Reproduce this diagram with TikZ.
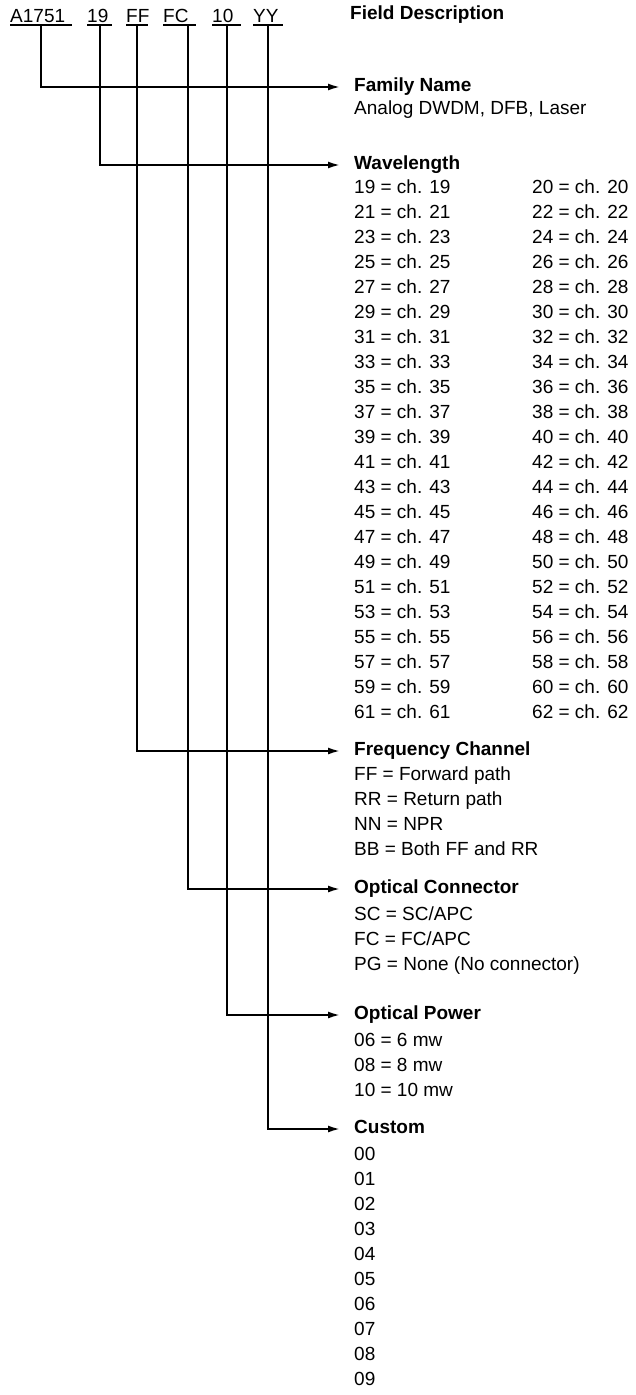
\documentclass[tikz,border=0pt]{standalone}
\usepackage{fontspec}
\setmainfont{Liberation Sans}
\usetikzlibrary{arrows.meta, positioning}

\begin{document}
\begin{tikzpicture}[x=1pt, y=-1pt,
  codebox/.style={anchor=south west, inner xsep=0pt, inner ysep=2.5pt, align=left,
                  font=\fontsize{19}{25}\selectfont},
  headtxt/.style={anchor=west, inner sep=0pt, text height=13pt, text depth=4pt,
                  font=\fontsize{19}{25}\selectfont\bfseries},
  bodytxt/.style={anchor=north west, inner sep=0pt, align=left,
                  font=\fontsize{19}{25}\selectfont},
  uline/.style={draw, line width=1.2pt},
  feed/.style={draw, line width=1.9pt, shorten >=14pt, -{Latex[length=12pt, width=7pt]}}
]
\useasboundingbox (0,0) rectangle (636,1395);

%% code fields (underlined)
\node[codebox, text width=62pt] (fam)  at (10,25)  {A1751};
\node[codebox, text width=25pt] (wave) at (87,25)  {19};
\node[codebox, text width=22pt] (freq) at (126,25) {FF};
\node[codebox, text width=33pt] (conn) at (163,25) {FC};
\node[codebox, text width=29pt] (pow)  at (212,25) {10};
\node[codebox, text width=30pt] (cust) at (253,25) {YY};

\foreach \n in {fam, wave, freq, conn, pow, cust}
  \draw[uline] (\n.south west) -- (\n.south east);

\node[headtxt] (title) at (350,15) {Field Description};

%% field headings
\node[headtxt] (hfam)  at (354,87)   {Family Name};
\node[headtxt] (hwave) at (354,165)  {Wavelength};
\node[headtxt] (hfreq) at (354,751)  {Frequency Channel};
\node[headtxt] (hconn) at (354,889)  {Optical Connector};
\node[headtxt] (hpow)  at (354,1015) {Optical Power};
\node[headtxt] (hcust) at (354,1129) {Custom};

%% field values
\node[bodytxt, below=5pt of hfam.south west, anchor=north west] (bfam) {Analog DWDM, DFB, Laser};
\node[bodytxt, below=6pt of hwave.south west, anchor=north west] (bwaveL)
  {19 = ch. 19\\21 = ch. 21\\23 = ch. 23\\25 = ch. 25\\27 = ch. 27\\29 = ch. 29\\
   31 = ch. 31\\33 = ch. 33\\35 = ch. 35\\37 = ch. 37\\39 = ch. 39\\41 = ch. 41\\
   43 = ch. 43\\45 = ch. 45\\47 = ch. 47\\49 = ch. 49\\51 = ch. 51\\53 = ch. 53\\
   55 = ch. 55\\57 = ch. 57\\59 = ch. 59\\61 = ch. 61};
\node[bodytxt] (bwaveR) at ([xshift=178pt]bwaveL.north west)
  {20 = ch. 20\\22 = ch. 22\\24 = ch. 24\\26 = ch. 26\\28 = ch. 28\\30 = ch. 30\\
   32 = ch. 32\\34 = ch. 34\\36 = ch. 36\\38 = ch. 38\\40 = ch. 40\\42 = ch. 42\\
   44 = ch. 44\\46 = ch. 46\\48 = ch. 48\\50 = ch. 50\\52 = ch. 52\\54 = ch. 54\\
   56 = ch. 56\\58 = ch. 58\\60 = ch. 60\\62 = ch. 62};
\node[bodytxt, below=7pt of hfreq.south west, anchor=north west] (bfreq)
  {FF = Forward path\\RR = Return path\\NN = NPR\\BB = Both FF and RR};
\node[bodytxt, below=9pt of hconn.south west, anchor=north west] (bconn)
  {SC = SC/APC\\FC = FC/APC\\PG = None (No connector)};
\node[bodytxt, below=9pt of hpow.south west, anchor=north west] (bpow)
  {06 = 6 mw\\08 = 8 mw\\10 = 10 mw};
\node[bodytxt, below=9pt of hcust.south west, anchor=north west] (bcust)
  {00\\01\\02\\03\\04\\05\\06\\07\\08\\09};

%% connectors
\draw[feed] (fam.south)  |- (hfam.west);
\draw[feed] (wave.south) |- (hwave.west);
\draw[feed] (freq.south) |- (hfreq.west);
\draw[feed] ([xshift=8pt]conn.south) |- (hconn.west);
\draw[feed] (pow.south)  |- (hpow.west);
\draw[feed] (cust.south) |- (hcust.west);

\end{tikzpicture}
\end{document}
